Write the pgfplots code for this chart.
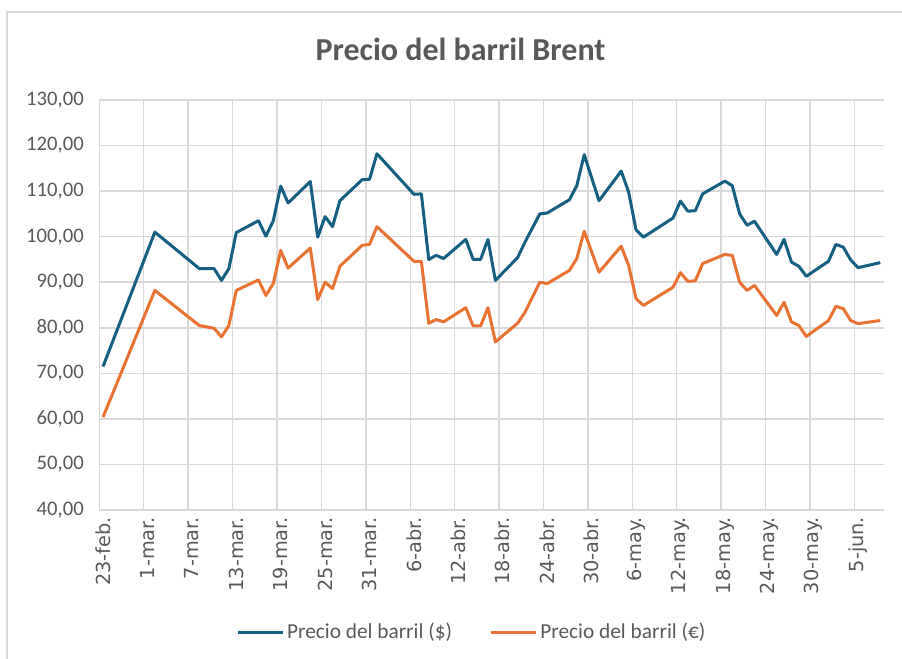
\documentclass[border=0pt]{standalone}
\usepackage{fontspec}
\setmainfont{Carlito}
\newfontfamily\xlabfont{DejaVu Sans}
\usepackage{pgfplots}
\pgfplotsset{compat=1.18}

\definecolor{usdblue}{HTML}{156082}
\definecolor{euroorange}{HTML}{E97132}
\definecolor{gridgray}{HTML}{D9D9D9}
\definecolor{textgray}{HTML}{595959}

% dias contados desde el 23-feb
\pgfplotstableread{
d usd eur
0 71.5 60.4
7 101.0 88.2
13 93.0 80.5
15 93.0 79.9
16 90.4 78.0
17 93.0 80.5
18 100.9 88.2
21 103.5 90.5
22 100.1 87.1
23 103.5 89.7
24 111.1 97.0
25 107.4 93.1
28 112.1 97.5
29 99.9 86.2
30 104.4 90.0
31 102.2 88.6
32 107.9 93.5
35 112.5 98.1
36 112.6 98.3
37 118.2 102.2
42 109.3 94.6
43 109.4 94.6
44 95.0 81.0
45 95.9 81.8
46 95.2 81.3
49 99.4 84.4
50 95.0 80.4
51 95.0 80.4
52 99.4 84.4
53 90.4 76.9
56 95.4 81.0
57 98.8 83.4
59 105.0 90.0
60 105.2 89.7
63 108.1 92.6
64 111.2 95.2
65 118.0 101.2
67 107.9 92.2
70 114.4 97.9
71 109.8 93.7
72 101.5 86.4
73 99.9 84.9
77 104.1 88.9
78 107.8 92.1
79 105.6 90.2
80 105.7 90.3
81 109.4 94.1
84 112.2 96.1
85 111.2 95.9
86 105.0 90.0
87 102.5 88.2
88 103.4 89.3
91 96.1 82.7
92 99.4 85.6
93 94.4 81.3
94 93.5 80.5
95 91.3 78.1
98 94.6 81.6
99 98.3 84.7
100 97.7 84.2
101 94.9 81.6
102 93.2 80.9
105 94.3 81.6
}\brent

\begin{document}
\begin{tikzpicture}
\useasboundingbox (0,0) rectangle (676.5pt,-494.25pt);
\draw[gridgray, line width=0.9pt] (5.25pt,-494.25pt) -- (5.25pt,-9pt) -- (676.5pt,-9pt);
\begin{axis}[
    at={(74.5pt,-382.5pt)}, anchor=south west,
    width=588.5pt, height=307.5pt, scale only axis,
    xmin=-0.5, xmax=105.5, ymin=40, ymax=130,
    axis x line*=bottom, axis y line*=left,
    axis line style={gridgray, line width=1.1pt, -},
    major tick length=0pt, minor tick length=0pt,
    xtick={0,6,...,102},
    xticklabels={23-feb.,1-mar.,7-mar.,13-mar.,19-mar.,25-mar.,31-mar.,6-abr.,12-abr.,18-abr.,24-abr.,30-abr.,6-may.,12-may.,18-may.,24-may.,30-may.,5-jun.},
    minor xtick={5.5,11.5,...,101.5},
    xminorgrids, ymajorgrids,
    grid style={gridgray, line width=1.1pt},
    minor grid style={gridgray, line width=1.1pt},
    ytick={40,50,...,130},
    yticklabels={{40,00},{50,00},{60,00},{70,00},{80,00},{90,00},{100,00},{110,00},{120,00},{130,00}},
    yticklabel style={font=\fontsize{15.5}{18}\selectfont, text=textgray, inner sep=0pt, xshift=-11.5pt},
    xticklabel style={font=\xlabfont\fontsize{14.5}{17}\selectfont, text=textgray, inner sep=0pt, yshift=-5pt, rotate=90, anchor=east},
    title={\textbf{Precio del barril Brent}},
    title style={at={(0.4603,1.103)}, anchor=center, font=\fontsize{24}{28}\selectfont, text=textgray},
    legend columns=2,
    legend style={at={(0.475,-0.2976)}, anchor=center, draw=none, fill=none,
        font=\fontsize{16}{19}\selectfont, text=textgray,
        /tikz/every even column/.append style={column sep=26pt}},
    legend image code/.code={\draw[#1, line width=2.25pt] (0pt,0pt) -- (34pt,0pt);},
    every axis plot/.append style={line width=2.25pt, line join=round, no marks},
]
\addplot[usdblue] table[x=d, y=usd] {\brent};
\addlegendentry{Precio del barril (\$)}
\addplot[euroorange] table[x=d, y=eur] {\brent};
\addlegendentry{Precio del barril (€)}
\end{axis}
\end{tikzpicture}
\end{document}
